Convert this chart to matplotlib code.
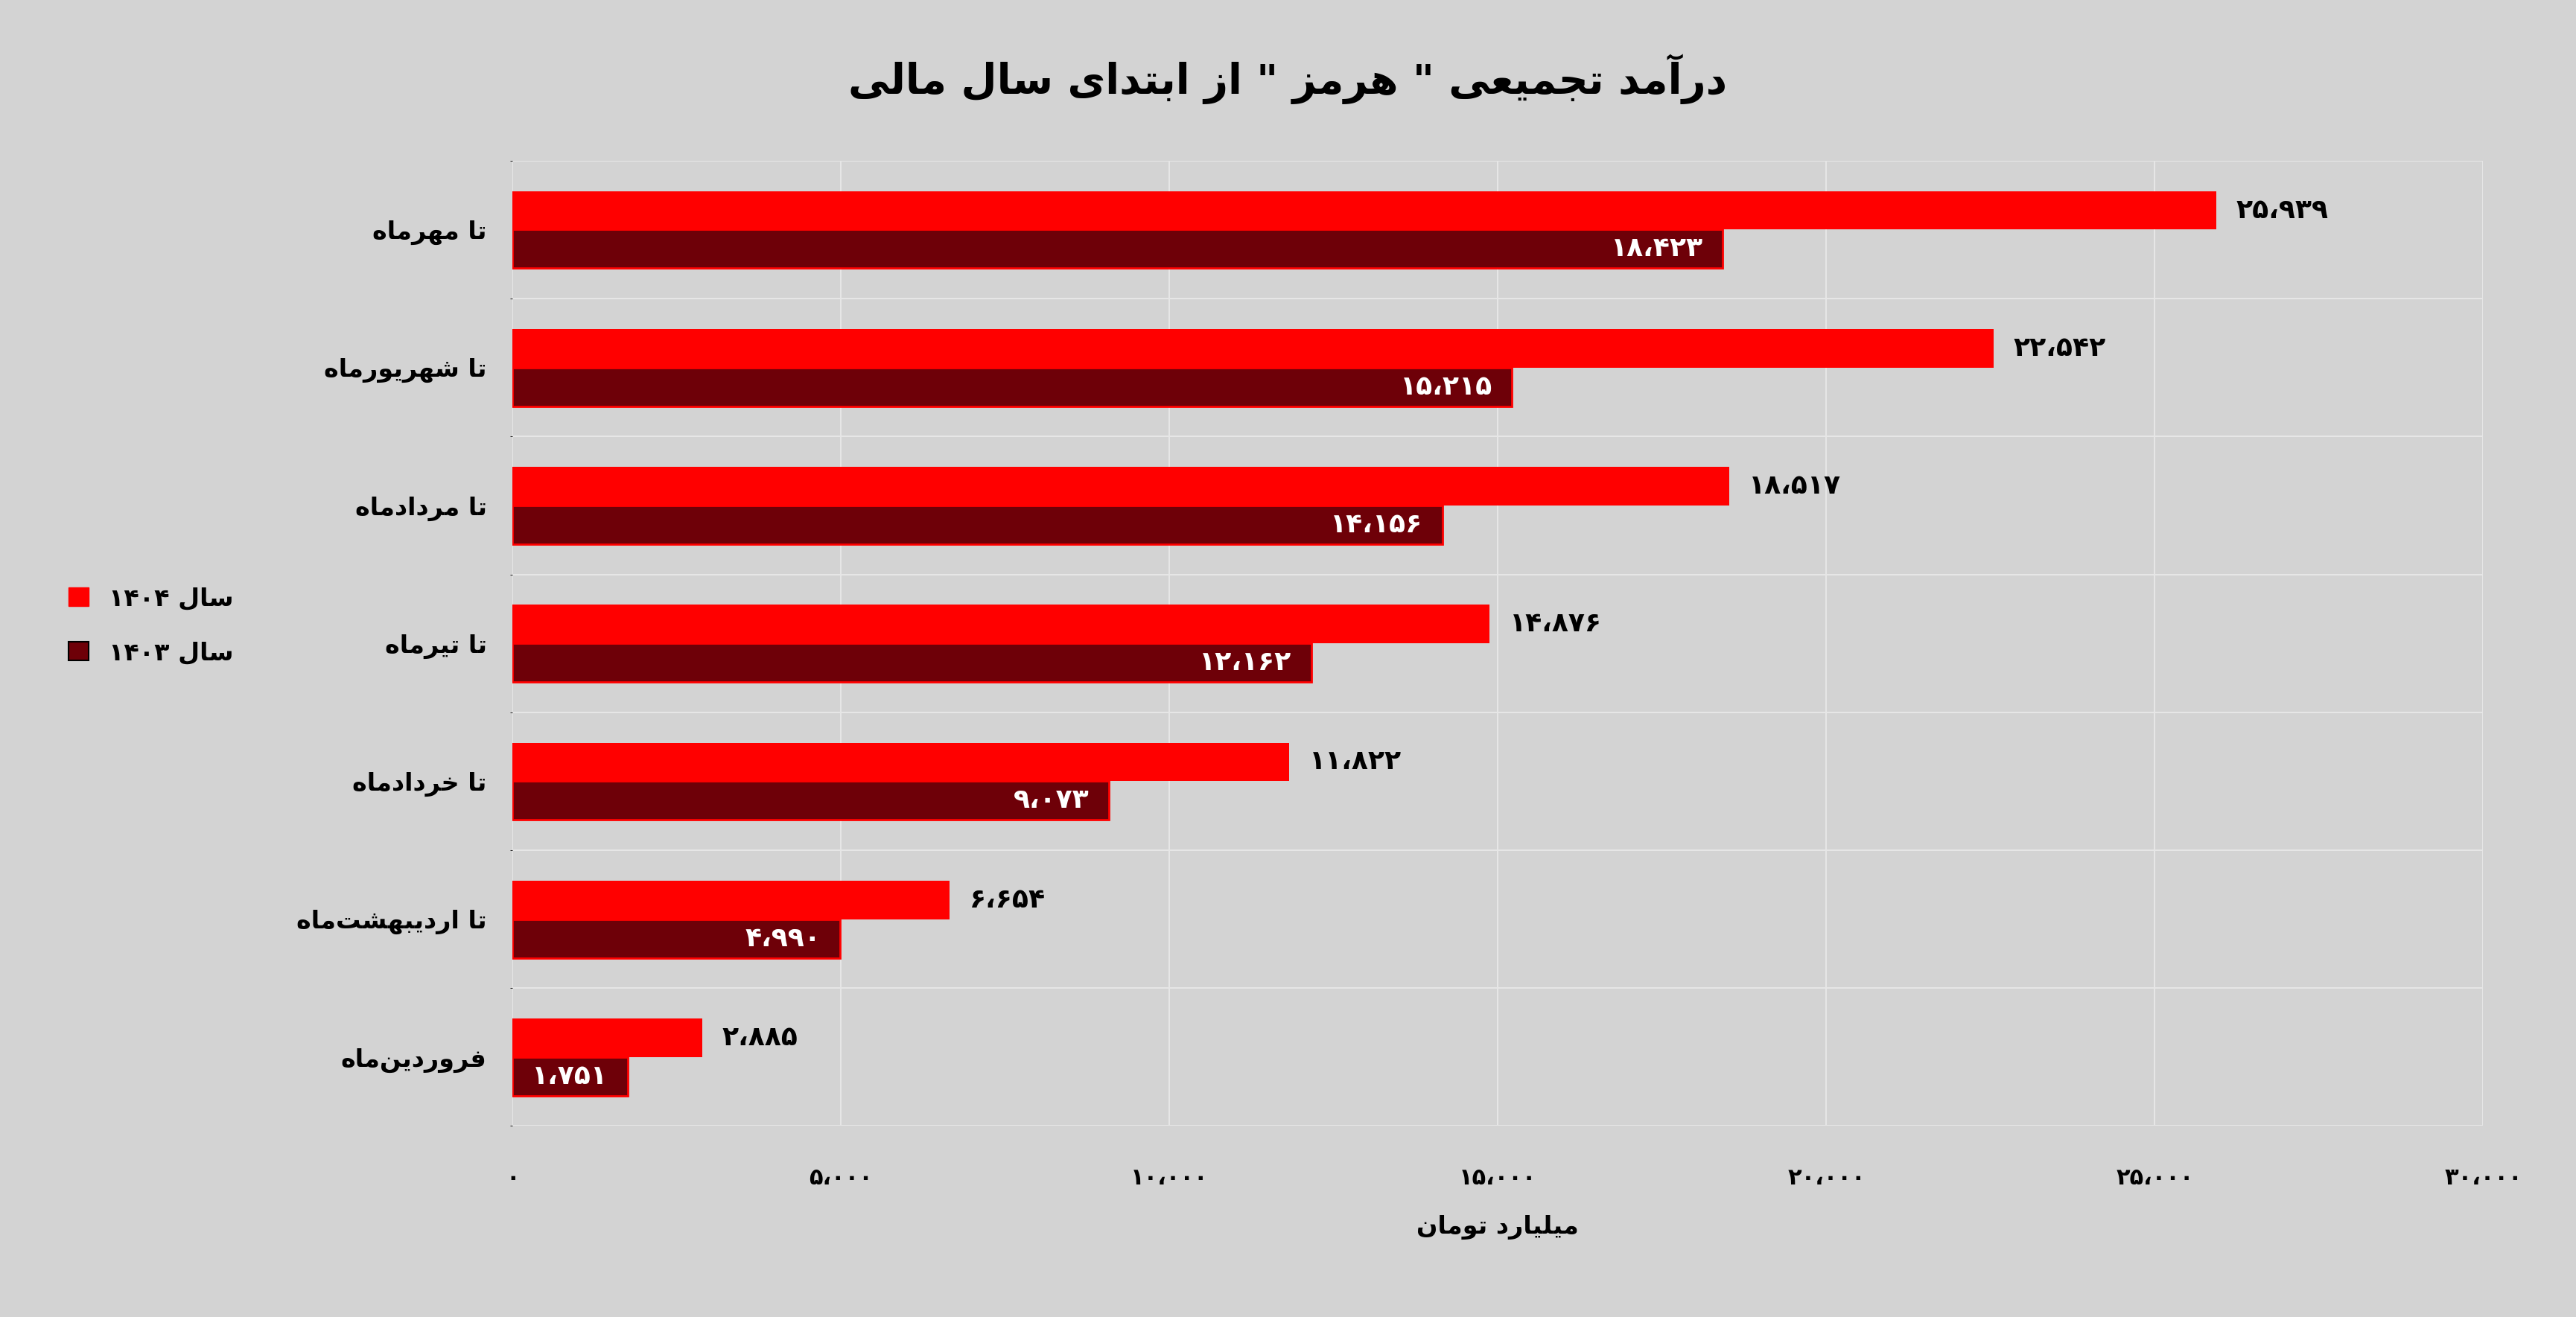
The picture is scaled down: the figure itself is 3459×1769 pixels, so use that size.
import matplotlib
matplotlib.use("Agg")
import matplotlib.pyplot as plt
import numpy as np

categories = ["تا مهرماه", "تا شهریورماه", "تا مردادماه", "تا تیرماه", "تا خردادماه", "تا اردیبهشت\u200cماه", "فروردین\u200cماه"]
v1404 = [25939, 22542, 18517, 14876, 11822, 6654, 2885]
v1403 = [18423, 15215, 14156, 12162, 9073, 4990, 1751]
title = 'درآمد تجمیعی " هرمز " از ابتدای سال مالی'
xlabel = "میلیارد تومان"
legend_word = "سال"
years = ["۱۴۰۴", "۱۴۰۳"]
xticks = [0, 5000, 10000, 15000, 20000, 25000, 30000]

FORMS = {  # iso, fin, ini, med
    'ا': (0xFE8D, 0xFE8E, None, None), 'آ': (0xFE81, 0xFE82, None, None),
    'ب': (0xFE8F, 0xFE90, 0xFE91, 0xFE92), 'ت': (0xFE95, 0xFE96, 0xFE97, 0xFE98),
    'ج': (0xFE9D, 0xFE9E, 0xFE9F, 0xFEA0), 'خ': (0xFEA5, 0xFEA6, 0xFEA7, 0xFEA8),
    'د': (0xFEA9, 0xFEAA, None, None), 'ر': (0xFEAD, 0xFEAE, None, None),
    'ز': (0xFEAF, 0xFEB0, None, None), 'س': (0xFEB1, 0xFEB2, 0xFEB3, 0xFEB4),
    'ش': (0xFEB5, 0xFEB6, 0xFEB7, 0xFEB8), 'ع': (0xFEC9, 0xFECA, 0xFECB, 0xFECC),
    'ف': (0xFED1, 0xFED2, 0xFED3, 0xFED4), 'ل': (0xFEDD, 0xFEDE, 0xFEDF, 0xFEE0),
    'م': (0xFEE1, 0xFEE2, 0xFEE3, 0xFEE4), 'ن': (0xFEE5, 0xFEE6, 0xFEE7, 0xFEE8),
    'ه': (0xFEE9, 0xFEEA, 0xFEEB, 0xFEEC), 'و': (0xFEED, 0xFEEE, None, None),
    'ی': (0xFBFC, 0xFBFD, 0xFBFE, 0xFBFF),
}

def dual(c):
    return c in FORMS and FORMS[c][2] is not None

def fa(s):
    out = []
    for i, c in enumerate(s):
        if c == '\u200c':
            continue
        if c not in FORMS:
            out.append(c); continue
        p = s[i-1] if i > 0 else ''
        n = s[i+1] if i+1 < len(s) else ''
        pc = dual(p)
        nc = dual(c) and n in FORMS
        f = FORMS[c]
        if pc and nc: code = f[3]
        elif nc: code = f[2]
        elif pc: code = f[1]
        else: code = f[0]
        out.append(chr(code))
    return ''.join(out[::-1])

PD = "۰۱۲۳۴۵۶۷۸۹"
def pnum(v):
    s = f"{v:,}".replace(",", "،")
    return ''.join(PD[int(ch)] if ch.isdigit() else ch for ch in s)

plt.rcParams['font.family'] = ['DejaVu Sans']
plt.rcParams['font.weight'] = 'bold'
bg = '#d3d3d3'
fig = plt.figure(figsize=(34.59, 17.69), dpi=100, facecolor=bg)
ax = fig.add_axes([0.199, 0.145, 0.765, 0.733], facecolor=bg)

y = np.arange(len(categories))
h = 0.28
c1, c2 = '#ff0000', '#6e0008'
b1 = ax.barh(y - h/2, v1404, height=h, color=c1, zorder=3)
b2 = ax.barh(y + h/2, v1403, height=h, color=c2, edgecolor=c1, linewidth=2, zorder=3)
for yi, v in zip(y, v1404):
    ax.text(v + 300, yi - h/2, pnum(v), va='center', ha='left', fontsize=26, fontweight='bold', color='black')
for yi, v in zip(y, v1403):
    ax.text(v - 300, yi + h/2, pnum(v), va='center', ha='right', fontsize=26, fontweight='bold', color='white', zorder=4)

ax.set_ylim(len(categories) - 0.5, -0.5)
ax.set_xlim(0, 30000)
ax.set_yticks(y)
ax.set_yticklabels([fa(c) for c in categories], fontsize=24, fontweight='bold')
ax.set_xticks(xticks)
ax.set_xticklabels([pnum(t) for t in xticks], fontsize=22, fontweight='bold')
ax.tick_params(axis='both', length=0, pad=25)
ax.tick_params(axis='x', pad=40)
ax.set_yticks(np.arange(len(categories) + 1) - 0.5, minor=True)
ax.grid(axis='x', color='#e6e6e6', linewidth=1.5, zorder=0)
ax.grid(axis='y', which='minor', color='#e6e6e6', linewidth=1.5, zorder=0)
ax.grid(axis='y', which='major', visible=False)
for s in ax.spines.values():
    s.set_visible(False)
ax.set_xlabel(fa(xlabel), fontsize=24, fontweight='bold', labelpad=25)
fig.text(0.5, 0.94, fa(title), ha='center', va='center', fontsize=40, fontweight='bold')

from matplotlib.patches import Patch
handles = [Patch(facecolor=c1, edgecolor=c1), Patch(facecolor=c2, edgecolor='black', linewidth=1.5)]
labels = [years[0] + " " + fa(legend_word), years[1] + " " + fa(legend_word)]
fig.legend(handles, labels, loc='center left', bbox_to_anchor=(0.018, 0.525), frameon=False,
           fontsize=24, handlelength=0.8, handleheight=0.8, labelspacing=1.2, handletextpad=0.8)

fig.savefig("out.png", dpi=100, facecolor=bg)
